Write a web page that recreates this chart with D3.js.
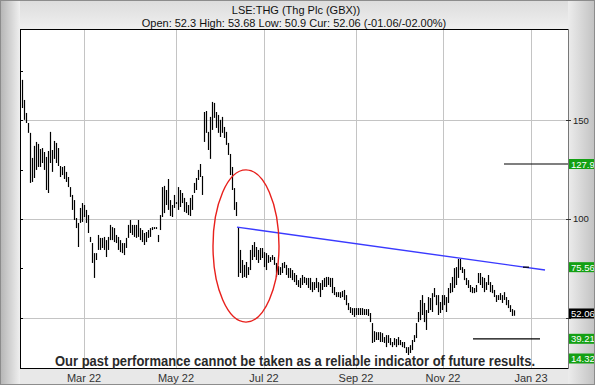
<!DOCTYPE html>
<html lang="en">
<head>
<meta charset="utf-8">
<title>LSE:THG</title>
<script src="https://d3js.org/d3.v7.min.js"></script>
<style>
body { margin: 0; background: #fff; }
svg text { font-family: "Liberation Sans", Arial, sans-serif; }
</style>
</head>
<body>
<div id="container"></div>
<script>
// daily bars, Jan 22 -> Dec 22 (high / low, pence)
var highs = [170.6,160.4,153.8,148.7,143.7,131.0,137.1,139.1,138.1,135.5,136.0,134.0,131.5,134.5,144.2,135.0,139.6,138.6,136.0,126.9,
  126.4,126.9,123.9,121.3,116.2,112.2,109.6,100.5,98.0,105.6,108.1,107.1,104.6,102.0,90.9,87.8,82.7,82.7,91.9,90.4,
  90.4,90.9,89.3,90.9,97.0,95.9,95.4,91.9,90.9,89.3,87.8,87.8,90.4,97.0,99.5,97.0,97.0,97.0,99.5,95.4,
  94.4,92.9,93.4,94.4,95.4,95.9,95.9,95.9,91.9,102.0,116.2,116.8,114.7,120.3,109.6,107.1,112.2,108.6,116.2,114.7,
  113.2,110.7,108.6,107.1,110.7,112.2,118.3,120.8,124.9,127.9,121.8,154.3,154.8,144.2,151.8,159.4,158.9,154.3,152.8,150.3,
  151.8,146.7,144.2,138.6,133.0,126.4,115.7,108.6,95.9,84.3,79.2,76.7,78.2,75.6,84.3,86.8,88.3,85.8,84.3,85.3,
  85.3,83.2,82.7,81.7,80.7,81.7,80.7,77.7,76.1,75.6,77.7,78.2,76.7,75.1,75.1,74.1,72.6,71.6,69.0,70.1,
  71.6,70.6,70.1,70.1,70.1,68.0,68.0,70.1,68.0,67.5,69.0,70.1,70.6,70.6,70.1,70.1,65.5,62.9,62.9,62.9,
  63.5,64.0,61.4,57.4,55.3,54.8,54.8,54.8,54.8,54.8,54.8,54.3,54.3,54.3,52.3,47.2,43.1,42.6,42.6,42.6,
  42.1,40.1,41.1,41.1,39.6,37.6,39.6,39.1,40.1,38.6,37.6,37.6,35.0,35.0,36.0,38.6,41.1,47.2,52.8,58.9,
  61.4,57.4,53.8,60.4,59.9,62.4,65.0,61.4,61.4,57.9,61.4,61.4,60.4,65.0,67.5,70.6,75.1,75.6,79.7,79.7,
  75.6,74.6,70.1,69.0,66.5,65.5,65.0,66.5,72.6,72.6,70.6,70.1,68.0,71.6,68.0,66.5,64.0,61.4,61.4,62.4,
  61.4,62.9,60.4,58.9,56.3,54.3,53.68];
var lows = [156.3,150.3,148.7,143.7,118.3,118.8,120.8,124.9,126.4,126.4,128.4,124.9,114.7,113.2,128.4,123.9,130.5,128.4,126.9,121.3,
  122.3,120.3,118.8,116.2,111.2,104.6,99.5,95.4,85.8,98.0,98.5,101.0,98.0,92.9,88.3,77.7,70.1,79.2,84.3,84.3,
  85.3,84.3,80.7,84.3,89.3,89.3,88.3,87.8,84.3,83.2,82.7,81.7,85.3,90.4,92.9,91.9,90.9,90.4,90.9,89.3,
  88.3,86.8,88.3,90.4,90.9,94.4,94.9,94.9,88.3,94.4,101.0,103.0,107.1,104.6,101.5,101.0,105.6,107.6,104.6,106.1,
  108.1,103.6,103.0,102.0,101.5,104.6,113.2,114.7,119.8,121.3,112.2,139.1,143.7,135.0,130.5,145.2,151.3,146.2,143.7,141.6,
  143.7,141.1,137.6,132.5,122.3,114.7,104.6,101.5,70.6,72.6,70.1,70.6,70.1,71.6,74.1,79.2,80.7,79.2,77.7,79.2,
  80.2,75.6,74.1,77.7,78.2,79.2,76.7,70.6,71.6,71.6,72.6,75.1,71.6,70.1,70.1,69.0,68.0,66.5,65.5,65.0,
  66.5,67.5,66.5,65.0,64.0,62.9,64.0,65.0,62.9,60.4,64.0,65.5,65.5,66.5,65.5,62.4,61.4,60.4,60.4,59.9,
  60.4,58.9,56.3,53.8,52.3,51.3,50.3,51.3,51.3,51.3,51.3,51.3,51.3,50.8,47.7,37.1,37.6,38.6,38.6,37.6,
  37.6,37.1,35.0,37.1,36.0,35.0,36.0,35.0,36.0,36.0,35.0,34.5,32.0,31.0,32.0,33.5,37.6,39.6,47.7,48.7,
  51.3,47.7,43.7,52.3,53.8,52.8,60.4,56.3,51.3,52.3,53.8,56.3,52.8,57.4,62.4,62.9,65.0,66.5,70.1,74.1,
  72.6,69.0,66.5,65.0,62.9,62.4,62.4,62.9,67.5,66.5,65.0,62.9,64.0,66.5,62.9,62.4,60.4,57.9,58.9,58.9,
  57.4,58.9,56.3,54.8,52.8,50.8,50.9];

// month labels and the bar they fall on
var monthLabels = ["Mar 22", "May 22", "Jul 22", "Sep 22", "Nov 22", "Jan 23"];
var monthBars = [31, 77, 121, 167, 210.5, 254.5];

var gridValues = [50, 100, 150];
// the 50 label sits under the current-price box, so only these show
var labelValues = [100, 150];
var minorTicks = [50, 75, 100, 125, 150, 175];

// target levels on the right
var levelValues = [127.9, 75.56, 52.06, 39.21, 14.32];
var levelText = ["127.9", "75.56", "52.06", "39.21", "14.32"];
var levelColor = ["#14a014", "#14a014", "#000000", "#14a014", "#14a014"];

var trendStart = [107.5, 95.9];
var trendEnd = [261.5, 74.1];

var w = 595, h = 385;
var plotL = 20, plotR = 568, plotT = 29, plotB = 368;

var svg = d3.select("#container").append("svg")
  .attr("width", w).attr("height", h);

var defs = svg.append("defs");
var lg = defs.append("linearGradient").attr("id", "leftg");
lg.append("stop").attr("offset", "0").attr("stop-color", "#b4b4b4");
lg.append("stop").attr("offset", "1").attr("stop-color", "#efefef");
var rg = defs.append("linearGradient").attr("id", "rightg");
rg.append("stop").attr("offset", "0").attr("stop-color", "#ececec");
rg.append("stop").attr("offset", "1").attr("stop-color", "#c2c2c2");
var tg = defs.append("linearGradient").attr("id", "topg").attr("x2", 0).attr("y2", 1);
tg.append("stop").attr("offset", "0").attr("stop-color", "#dcdcdc");
tg.append("stop").attr("offset", "1").attr("stop-color", "#efefef");
defs.append("clipPath").attr("id", "frame")
  .append("rect").attr("x", 0).attr("y", 0).attr("width", w - 1).attr("height", h);

// frame
svg.append("rect").attr("width", w).attr("height", h).attr("fill", "#e8e8e8");
svg.append("rect").attr("width", w).attr("height", plotT).attr("fill", "url(#topg)");
svg.append("rect").attr("width", plotL).attr("height", h).attr("fill", "url(#leftg)");
svg.append("rect").attr("x", plotR).attr("width", w - plotR).attr("height", h).attr("fill", "url(#rightg)");
svg.append("rect").attr("x", 0.5).attr("y", 0.5).attr("width", w - 1).attr("height", h - 1)
  .attr("fill", "none").attr("stroke", "#8c8c8c");
svg.append("rect").attr("x", plotL).attr("y", plotT).attr("width", plotR - plotL).attr("height", plotB - plotT)
  .attr("fill", "#fff");

var x = d3.scaleLinear().domain([-1, 273]).range([plotL, plotR]);
var y = d3.scaleLinear().domain([24.4, 196.4]).range([plotB, plotT]);

// grid
svg.append("g").selectAll("line").data(monthBars).enter().append("line")
  .attr("x1", function(d) { return Math.round(x(d)) + 0.5; })
  .attr("x2", function(d) { return Math.round(x(d)) + 0.5; })
  .attr("y1", plotT).attr("y2", plotB)
  .attr("stroke", "#c4c4c4");
svg.append("g").selectAll("line").data(gridValues).enter().append("line")
  .attr("x1", plotL).attr("x2", plotR)
  .attr("y1", function(d) { return Math.round(y(d)) + 0.5; })
  .attr("y2", function(d) { return Math.round(y(d)) + 0.5; })
  .attr("stroke", "#c4c4c4");

// bars
svg.append("g").selectAll("line").data(highs).enter().append("line")
  .attr("x1", function(d, i) { return Math.round(x(i)) + 0.5; })
  .attr("x2", function(d, i) { return Math.round(x(i)) + 0.5; })
  .attr("y1", function(d) { return y(d); })
  .attr("y2", function(d, i) { return y(lows[i]); })
  .attr("stroke", "#000").attr("stroke-width", 1.2);

// trend line
svg.append("line")
  .attr("x1", x(trendStart[0])).attr("y1", y(trendStart[1]))
  .attr("x2", x(trendEnd[0])).attr("y2", y(trendEnd[1]))
  .attr("stroke", "#3a3aff").attr("stroke-width", 1.4);

// circled gap
svg.append("ellipse")
  .attr("cx", x(112)).attr("cy", y(86.3))
  .attr("rx", x(112 + 16.5) - x(112)).attr("ry", y(86.3) - y(86.3 + 38.6))
  .attr("fill", "none").attr("stroke", "#e8201c").attr("stroke-width", 1.4);

// target lines
var targets = svg.append("g").attr("stroke", "#000").attr("stroke-width", 1.2);
targets.append("line").attr("x1", x(241)).attr("x2", x(273))
  .attr("y1", y(levelValues[0])).attr("y2", y(levelValues[0]));
targets.append("line").attr("x1", x(250.5)).attr("x2", x(253.5))
  .attr("y1", y(levelValues[1])).attr("y2", y(levelValues[1]));
targets.append("line").attr("x1", x(225.5)).attr("x2", x(259))
  .attr("y1", y(levelValues[3])).attr("y2", y(levelValues[3]));

// plot border
svg.append("line").attr("x1", plotL + 0.5).attr("x2", plotL + 0.5).attr("y1", plotT).attr("y2", plotB + 1)
  .attr("stroke", "#000");
svg.append("line").attr("x1", plotL).attr("x2", plotR).attr("y1", plotT + 0.5).attr("y2", plotT + 0.5)
  .attr("stroke", "#000");
svg.append("line").attr("x1", plotL).attr("x2", plotR).attr("y1", plotB + 0.5).attr("y2", plotB + 0.5)
  .attr("stroke", "#000");
svg.append("line").attr("x1", plotR + 0.5).attr("x2", plotR + 0.5).attr("y1", plotT).attr("y2", plotB + 1)
  .attr("stroke", "#777");

// minor ticks on the left
svg.append("g").selectAll("line").data(minorTicks).enter().append("line")
  .attr("x1", plotL).attr("x2", plotL + 3)
  .attr("y1", function(d) { return Math.round(y(d)) + 0.5; })
  .attr("y2", function(d) { return Math.round(y(d)) + 0.5; })
  .attr("stroke", "#000");

// right axis ticks + labels
var ra = svg.append("g");
ra.selectAll("line").data(gridValues).enter().append("line")
  .attr("x1", plotR - 2).attr("x2", plotR + 3)
  .attr("y1", function(d) { return Math.round(y(d)) + 0.5; })
  .attr("y2", function(d) { return Math.round(y(d)) + 0.5; })
  .attr("stroke", "#333");
ra.selectAll("text").data(labelValues).enter().append("text")
  .attr("x", plotR + 5).attr("y", function(d) { return y(d) + 3.5; })
  .attr("font-size", 9.5).attr("fill", "#222")
  .text(function(d) { return d3.format("d")(d); });

// month labels
svg.append("g").selectAll("text").data(monthBars).enter().append("text")
  .attr("x", function(d) { return x(d); }).attr("y", 382)
  .attr("text-anchor", "middle").attr("font-size", 11).attr("fill", "#333")
  .text(function(d, i) { return monthLabels[i]; });

// level boxes
var lv = svg.append("g").attr("clip-path", "url(#frame)");
var boxY = function(v) { return Math.min(y(v), 358.5); };
lv.selectAll("rect").data(levelValues).enter().append("rect")
  .attr("x", plotR + 1).attr("width", 30)
  .attr("y", function(d) { return boxY(d) - 5; }).attr("height", 10)
  .attr("fill", function(d, i) { return levelColor[i]; });
lv.selectAll("text").data(levelValues).enter().append("text")
  .attr("x", plotR + 3).attr("y", function(d) { return boxY(d) + 3.6; })
  .attr("font-size", 9.5).attr("fill", "#fff")
  .text(function(d, i) { return levelText[i]; });

// titles
svg.append("text").attr("x", 296).attr("y", 14).attr("text-anchor", "middle")
  .attr("font-size", 11).attr("fill", "#111").text("LSE:THG (Thg Plc (GBX))");
svg.append("text").attr("x", 294).attr("y", 26.5).attr("text-anchor", "middle")
  .attr("font-size", 11).attr("fill", "#111")
  .text("Open: 52.3 High: 53.68 Low: 50.9 Cur: 52.06 (-01.06/-02.00%)");

// disclaimer
svg.append("text").attr("x", 295).attr("y", 366).attr("text-anchor", "middle")
  .attr("font-size", 14.5).attr("font-weight", "bold").attr("fill", "#2a2a2a")
  .attr("textLength", 480).attr("lengthAdjust", "spacingAndGlyphs")
  .text("Our past performance cannot be taken as a reliable indicator of future results.");
</script>
</body>
</html>
